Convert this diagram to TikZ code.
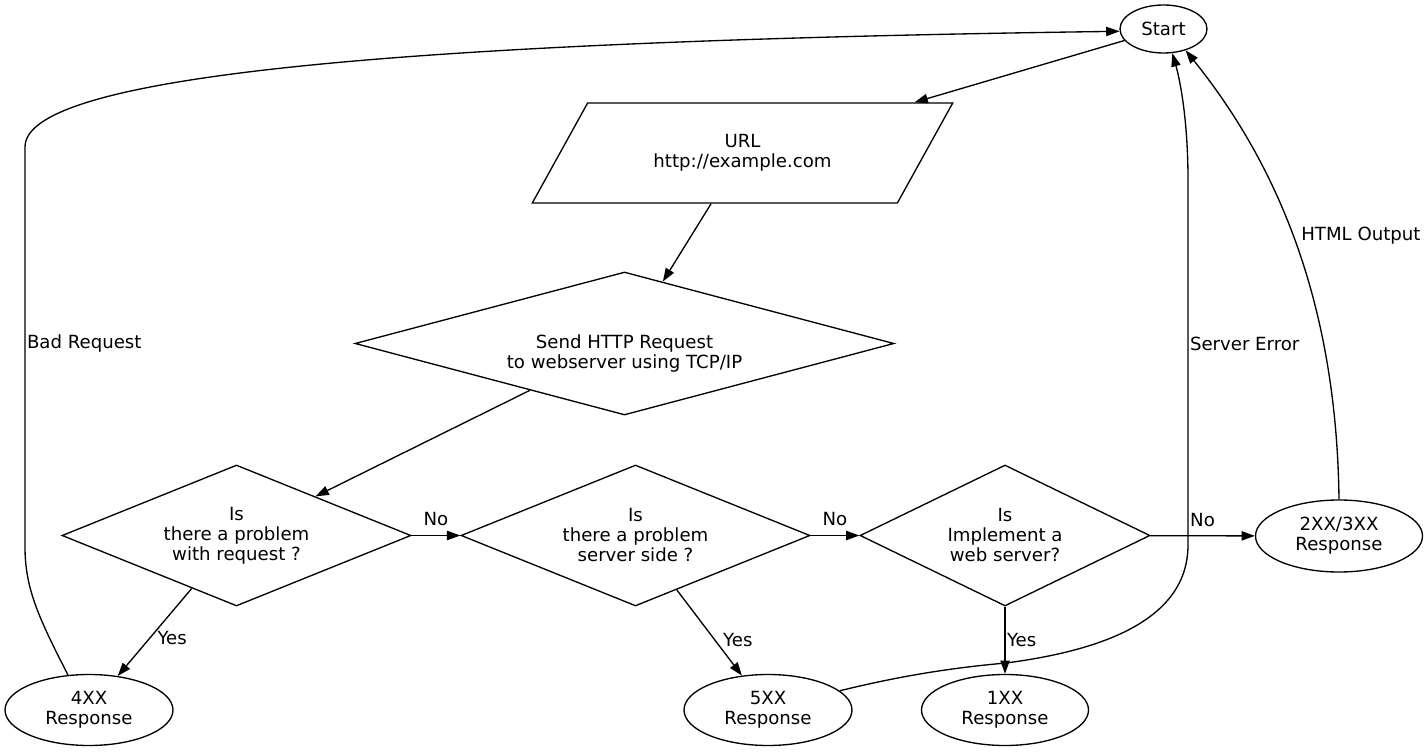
\documentclass[tikz,border=0pt]{standalone}
\usepackage{fontspec}
\setmainfont{DejaVu Sans}
\usetikzlibrary{shapes.geometric,arrows.meta}
\tikzset{
  term/.style={ellipse, draw, inner sep=0pt, align=center},
  decision/.style={diamond, draw, inner sep=0pt, align=center},
  io/.style={trapezium, draw, trapezium left angle=49.3, trapezium right angle=130.7,
    trapezium stretches=true, inner sep=0pt, align=center},
  lbl/.style={inner sep=1pt},
}
\begin{document}
\begin{tikzpicture}[x=0.75pt,y=-0.75pt,->,>={Triangle[length=10pt,width=7pt]},
    line width=1pt,font=\fontsize{13.6}{15}\selectfont]
    \useasboundingbox (0,0) rectangle (1428,752);

    % Top: start, input and request
    \node[term, minimum width=65.25pt, minimum height=36pt] (Start) at (1163.5,29) {Start};
    \node[io, minimum width=315.75pt, minimum height=75pt] (URL) at (742.5,153) {URL\\http://example.com};
    \node[decision, aspect=3.77, minimum width=404.25pt, minimum height=107.25pt] (Send) at (624.5,343.5) {\strut\\Send HTTP Request\\to webserver using TCP/IP};

    % Middle row: the three questions
    \node[decision, aspect=2.48, minimum width=261.75pt, minimum height=105.75pt] (Req)  at (236.5,535.5) {Is\\there a problem\\with request ?};
    \node[decision, aspect=2.48, minimum width=261.75pt, minimum height=105.75pt] (Srv)  at (635.5,535.5) {Is\\there a problem\\server side ?};
    \node[decision, aspect=2.06, minimum width=217.5pt, minimum height=105.75pt] (Impl) at (1005,535.5) {Is\\Implement a\\web server?};
    \node[term, minimum width=125.25pt, minimum height=54pt] (R2xx) at (1339,536) {2XX/3XX\\Response};

    % Bottom row: the responses
    \node[term, minimum width=126pt, minimum height=53.25pt] (R4xx) at (89,710)  {4XX\\Response};
    \node[term, minimum width=126pt, minimum height=53.25pt] (R5xx) at (768,710) {5XX\\Response};
    \node[term, minimum width=125.25pt, minimum height=53.25pt] (R1xx) at (1005,710) {1XX\\Response};

    % Main flow
    \draw (Start) -- (URL);
    \draw (URL) -- (Send);
    \draw (Send) -- (Req);

    % No edges
    \draw (Req)  -- node[lbl, above=5.5pt] (no1) {No} (Srv);
    \draw (Srv)  -- node[lbl, above=5.5pt] (no2) {No} (Impl);
    \draw (Impl) -- node[lbl, above=5.5pt] (no3) {No} (R2xx);

    % Yes edges
    \draw (Req)  -- node[lbl, pos=0.57, anchor=west, xshift=4.5pt] (yes1) {Yes} (R4xx);
    \draw (Srv)  -- node[lbl, pos=0.58, anchor=west, xshift=5pt] (yes2) {Yes} (R5xx);
    \draw (Impl) -- node[lbl, anchor=west] (yes3) {Yes} (R1xx);

    % Back to Start
    \draw (R4xx.121) .. controls (40,620) and (25,590) .. (25,547)
      -- node[lbl, pos=0.51, anchor=west] (bad) {Bad Request} (25,147)
      .. controls (25,80) and (350,42) .. (Start.183);
    \draw (R5xx.15) .. controls (900,676) and (950,668) .. (1006,663)
      .. controls (1090,652) and (1188,625) .. (1188,545)
      -- node[lbl, pos=0.55, anchor=west] (err) {Server Error} (1188,180)
      .. controls (1188,120) and (1180,80) .. (Start.290);
    \draw (R2xx.north) .. controls (1337,340) and (1298,190)
      .. node[lbl, pos=0.571, anchor=west, xshift=5pt] (html) {HTML Output} (Start.316);
\end{tikzpicture}
\end{document}
